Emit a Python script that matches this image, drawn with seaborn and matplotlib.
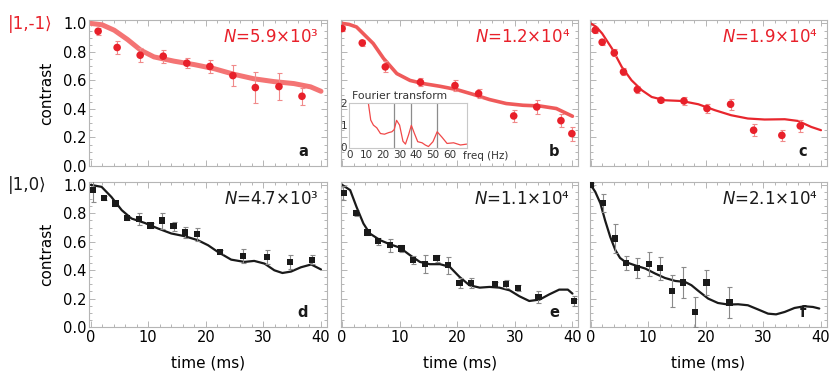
import numpy as np
import pandas as pd
import matplotlib
matplotlib.use("Agg")
import matplotlib.pyplot as plt
from matplotlib.ticker import MultipleLocator
import seaborn as sns

# ---------------- data ----------------
# panel a  |1,-1>, N=5.9e3
t_a = [1.3, 4.6, 8.6, 12.6, 16.7, 20.7, 24.7, 28.6, 32.7, 36.7]
c_a = [0.945, 0.831, 0.777, 0.770, 0.721, 0.698, 0.634, 0.550, 0.557, 0.489]
e_a = [0.023, 0.048, 0.050, 0.045, 0.033, 0.044, 0.073, 0.110, 0.093, 0.058]
tfit_a = [0, 2, 4.1, 6.4, 8.7, 11, 14.5, 18, 21.4, 24.9, 28.3, 31.8, 35.3, 38.2, 40]
cfit_a = [1.0, 0.99, 0.952, 0.887, 0.812, 0.765, 0.735, 0.711, 0.683, 0.643, 0.612, 0.592, 0.578, 0.555, 0.524]

# panel b  |1,-1>, N=1.2e4
t_b = [0.0, 3.5, 7.5, 13.6, 19.6, 23.7, 29.8, 33.8, 38.0, 39.9]
c_b = [0.964, 0.863, 0.695, 0.587, 0.564, 0.508, 0.351, 0.414, 0.318, 0.227]
e_b = [0.020, 0.020, 0.038, 0.027, 0.037, 0.030, 0.040, 0.047, 0.047, 0.050]
tfit_b = [0, 1.2, 2.5, 5.4, 7.2, 9.5, 11.8, 14.1, 17, 19.9, 22.7, 25.6, 28.5, 31.4, 34.3, 37.2, 40]
cfit_b = [1.0, 0.993, 0.975, 0.859, 0.754, 0.648, 0.600, 0.578, 0.559, 0.536, 0.503, 0.466, 0.438, 0.426, 0.421, 0.403, 0.349]

# panel c  |1,-1>, N=1.9e4
t_c = [0.8, 2.0, 4.1, 5.7, 8.1, 12.2, 16.2, 20.2, 24.3, 28.3, 33.2, 36.4]
c_c = [0.952, 0.868, 0.793, 0.660, 0.536, 0.461, 0.456, 0.403, 0.433, 0.251, 0.215, 0.281]
e_c = [0.020, 0.020, 0.025, 0.025, 0.025, 0.015, 0.025, 0.030, 0.037, 0.044, 0.037, 0.044]
tfit_c = [0, 1.0, 2.0, 3.7, 5.4, 7.1, 8.9, 10.6, 12.9, 15.8, 18.7, 21.6, 24.4, 27.3, 30.2, 33.7, 36, 38.3, 40]
cfit_c = [1.0, 0.975, 0.929, 0.824, 0.695, 0.601, 0.531, 0.484, 0.461, 0.456, 0.433, 0.391, 0.356, 0.333, 0.326, 0.328, 0.316, 0.274, 0.251]

# panel d  |1,0>, N=4.7e3
t_d = [0.46, 2.3, 4.3, 6.3, 8.4, 10.4, 12.4, 14.4, 16.4, 18.4, 22.5, 26.5, 30.6, 34.6, 38.5]
c_d = [0.963, 0.909, 0.869, 0.768, 0.761, 0.714, 0.749, 0.709, 0.665, 0.653, 0.528, 0.498, 0.493, 0.458, 0.474]
e_d = [0.082, 0.015, 0.015, 0.015, 0.043, 0.015, 0.056, 0.032, 0.040, 0.045, 0.015, 0.050, 0.047, 0.050, 0.030]
tfit_d = [0, 1.9, 3.6, 5.4, 7.1, 9.4, 11.7, 14, 16.3, 18.6, 20.4, 22.1, 24.4, 26.7, 28.4, 30.2, 31.9, 33.3, 34.8, 36.5, 38.3, 40]
cfit_d = [1.0, 0.986, 0.915, 0.822, 0.763, 0.732, 0.693, 0.658, 0.639, 0.611, 0.575, 0.528, 0.474, 0.458, 0.465, 0.446, 0.399, 0.380, 0.390, 0.420, 0.440, 0.405]

# panel e  |1,0>, N=1.1e4
t_e = [0.23, 2.4, 4.4, 6.3, 8.3, 10.3, 12.3, 14.4, 16.4, 18.4, 20.4, 22.4, 26.5, 28.5, 30.5, 34.1, 40.3]
c_e = [0.944, 0.803, 0.665, 0.604, 0.575, 0.552, 0.470, 0.442, 0.484, 0.435, 0.312, 0.312, 0.303, 0.303, 0.275, 0.211, 0.181]
e_e = [0.047, 0.020, 0.015, 0.025, 0.047, 0.025, 0.030, 0.062, 0.025, 0.061, 0.035, 0.035, 0.015, 0.030, 0.020, 0.040, 0.035]
tfit_e = [0, 1.4, 2.5, 3.7, 4.8, 6.6, 8.3, 10, 11.8, 13.5, 15.2, 17, 18.7, 20.4, 22.1, 23.9, 25.6, 27.3, 29.1, 30.8, 32.5, 34.3, 36, 37.7, 39.2, 40]
cfit_e = [1.0, 0.963, 0.845, 0.728, 0.658, 0.611, 0.582, 0.559, 0.505, 0.458, 0.442, 0.442, 0.423, 0.352, 0.294, 0.277, 0.282, 0.277, 0.258, 0.216, 0.183, 0.193, 0.230, 0.263, 0.263, 0.235]

# panel f  |1,0>, N=2.1e4
t_f = [0.05, 2.1, 4.2, 6.2, 8.1, 10.1, 12.1, 14.1, 16.1, 18.1, 20.1, 24.1]
c_f = [1.0, 0.873, 0.622, 0.451, 0.413, 0.444, 0.413, 0.254, 0.313, 0.106, 0.313, 0.172]
e_f = [0.010, 0.062, 0.100, 0.047, 0.070, 0.086, 0.082, 0.110, 0.110, 0.105, 0.090, 0.110]
tfit_f = [0, 0.8, 1.7, 2.5, 3.4, 4.3, 5.1, 6.0, 7.7, 9.5, 11.2, 12.9, 14.7, 16.4, 17.5, 18.7, 20.4, 22.1, 23.9, 25.6, 27.3, 29.1, 30.8, 32.2, 33.7, 35.4, 37.1, 38.6, 39.7]
cfit_f = [1.0, 0.951, 0.869, 0.751, 0.634, 0.540, 0.486, 0.458, 0.434, 0.411, 0.376, 0.345, 0.324, 0.317, 0.294, 0.254, 0.200, 0.169, 0.158, 0.160, 0.153, 0.123, 0.094, 0.089, 0.106, 0.134, 0.146, 0.141, 0.130]

# inset: Fourier transform of panel b
ft_freq = [10.8, 11.4, 12.8, 14.4, 16.4, 18.6, 21, 23.4, 25.4, 26.8, 28.2, 30, 32, 33.5, 35.3, 37, 38.8, 40.8, 43.4, 45.3, 47.2, 49.9, 52.4, 55.3, 58.3, 62.2, 66.3, 70]
ft_amp = [2.3, 1.97, 1.21, 0.98, 0.86, 0.60, 0.57, 0.64, 0.68, 0.78, 1.20, 0.98, 0.25, 0.12, 0.53, 0.97, 0.61, 0.23, 0.18, 0.08, 0.01, 0.23, 0.68, 0.43, 0.15, 0.18, 0.08, 0.12]
ft_peaks = [26.5, 37.0, 52.5]
ft_xticks = [0, 10, 20, 30, 40, 50, 60]
ft_yticks = [0, 1, 2]

n_labels = ["5.9×10³", "1.2×10⁴", "1.9×10⁴", "4.7×10³", "1.1×10⁴", "2.1×10⁴"]
panel_letters = ["a", "b", "c", "d", "e", "f"]
row_states = ["|1,-1⟩", "|1,0⟩"]
x_ticks = [0, 10, 20, 30, 40]
y_ticks = [0.0, 0.2, 0.4, 0.6, 0.8, 1.0]

# ---------------- style ----------------
sns.set_theme(style="ticks")
plt.rcParams["font.family"] = ["DejaVu Sans"]

RED = "#e8202a"
RED_ERR = "#f08a8a"
BLACK = "#1a1a1a"
GRAY_ERR = "#8a8a8a"
FRAME = "#b5b5b5"

fig = plt.figure(figsize=(8.31, 3.76), dpi=100)

lefts = [0.1077, 0.4103, 0.7094]
width = 0.2855
rows = [(0.5585, 0.388, 1.023), (0.1303, 0.3856, 1.02)]

panels = [
    (t_a, c_a, e_a, tfit_a, cfit_a),
    (t_b, c_b, e_b, tfit_b, cfit_b),
    (t_c, c_c, e_c, tfit_c, cfit_c),
    (t_d, c_d, e_d, tfit_d, cfit_d),
    (t_e, c_e, e_e, tfit_e, cfit_e),
    (t_f, c_f, e_f, tfit_f, cfit_f),
]
fit_styles = [("#f47474", 3.6), ("#ef5a5a", 2.6), ("#e8262d", 1.6),
              (BLACK, 1.6), (BLACK, 1.6), (BLACK, 1.6)]

for i, (t, c, e, tf, cf) in enumerate(panels):
    r, col = divmod(i, 3)
    bottom, height, ytop = rows[r]
    ax = fig.add_axes([lefts[col], bottom, width, height])
    top = r == 0
    pcol = RED if top else BLACK
    ecol = RED_ERR if top else GRAY_ERR
    lcol, lw = fit_styles[i]

    sns.lineplot(x=tf, y=cf, ax=ax, color=lcol, lw=lw, estimator=None, sort=False, zorder=2)
    ax.errorbar(t, c, yerr=e, fmt="none", ecolor=ecol, elinewidth=0.8,
                capsize=1.8, capthick=0.8, zorder=3)
    sns.scatterplot(x=t, y=c, ax=ax, marker="o" if top else "s", color=pcol,
                    s=30 if top else 20, edgecolor="none", linewidth=0, zorder=4)

    ax.set_xlim(-0.2, 41)
    ax.set_ylim(0, ytop)
    ax.set_xticks(x_ticks)
    ax.set_yticks(y_ticks)
    ax.xaxis.set_minor_locator(MultipleLocator(2))
    ax.yaxis.set_minor_locator(MultipleLocator(0.05))
    ax.tick_params(which="both", direction="in", top=True, right=True,
                   color=FRAME, width=0.7, labelsize=10.5, pad=2, labelcolor="black")
    ax.tick_params(which="major", length=4)
    ax.tick_params(which="minor", length=2)
    for sp in ax.spines.values():
        sp.set_color(FRAME)
        sp.set_linewidth(0.8)
    ax.set_xlabel("")
    ax.set_ylabel("")
    if top:
        ax.set_xticklabels([])
    else:
        ax.set_xticklabels([str(v) for v in x_ticks])
        ax.set_xlabel("time (ms)", fontsize=11, labelpad=8, color="black")
    if col == 0:
        ax.set_yticklabels([f"{v:.1f}" for v in y_ticks])
        ax.set_ylabel("contrast", fontsize=11, color="black")
        ax.yaxis.set_label_coords(-0.15, 0.5)
    else:
        ax.set_yticklabels([])

    ax.text(0.965, 0.885, r"$N$=" + n_labels[i], transform=ax.transAxes,
            ha="right", va="center", fontsize=12, color=pcol)
    ax.text(0.90, 0.10, panel_letters[i], transform=ax.transAxes,
            ha="center", va="center", fontsize=10.5, fontweight="bold", color=BLACK)

    if i == 1:
        axin = fig.add_axes([0.4203, 0.6056, 0.1413, 0.1213])
        axin.set_facecolor("white")
        for p in ft_peaks:
            axin.axvline(p, color="#8c8c8c", lw=0.9, zorder=1)
        sns.lineplot(x=ft_freq, y=ft_amp, ax=axin, color="#f04848", lw=0.9,
                     estimator=None, sort=False, zorder=2)
        axin.set_xlim(0, 70)
        axin.set_ylim(-0.07, 2.0)
        axin.set_xticks(ft_xticks)
        axin.set_yticks(ft_yticks)
        axin.set_xticklabels([str(v) for v in ft_xticks])
        axin.set_yticklabels([str(v) for v in ft_yticks])
        axin.tick_params(direction="in", length=0, labelsize=7.5, pad=1.5,
                         colors="#333333")
        for sp in axin.spines.values():
            sp.set_color("#c8c8c8")
            sp.set_linewidth(0.8)
        axin.set_xlabel("")
        axin.set_ylabel("")
        axin.text(0.02, 1.03, "Fourier transform", transform=axin.transAxes,
                  ha="left", va="bottom", fontsize=7.8, color="#333333")
        axin.text(0.965, -0.065, "freq (Hz)", transform=axin.transAxes,
                  ha="left", va="top", fontsize=7.5, color="#333333")

fig.text(0.010, 0.936, row_states[0], ha="left", va="center", fontsize=12, color=RED)
fig.text(0.010, 0.508, row_states[1], ha="left", va="center", fontsize=12, color=BLACK)

fig.savefig("out.png", dpi=100)
